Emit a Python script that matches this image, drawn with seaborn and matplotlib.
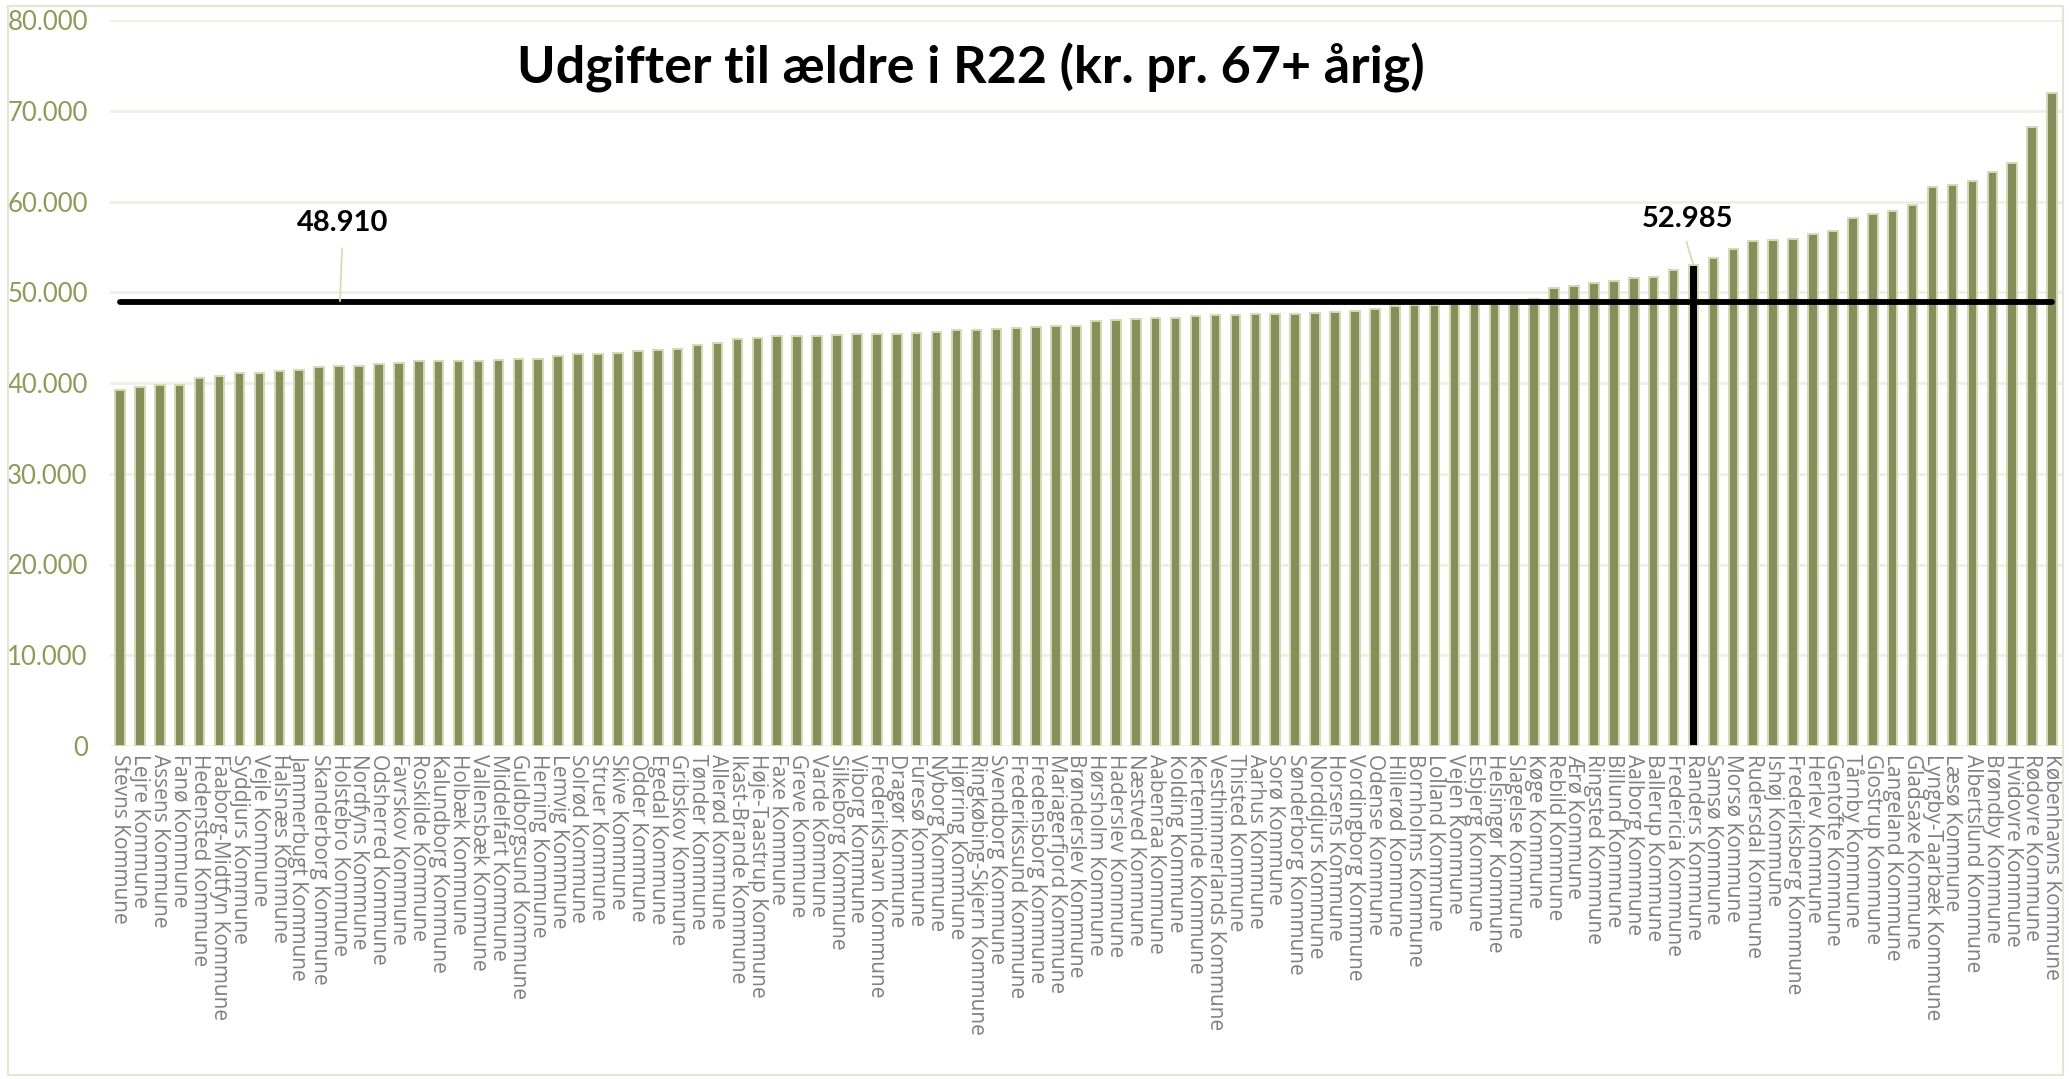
import matplotlib
matplotlib.use("Agg")
import matplotlib.pyplot as plt
import seaborn as sns
import pandas as pd

# Kommuner sorteret efter udgift pr. 67+ årig (R22)
kommuner = [
    "Stevns Kommune", "Lejre Kommune", "Assens Kommune", "Fanø Kommune",
    "Hedensted Kommune", "Faaborg-Midtfyn Kommune", "Syddjurs Kommune", "Vejle Kommune",
    "Halsnæs Kommune", "Jammerbugt Kommune", "Skanderborg Kommune", "Holstebro Kommune",
    "Nordfyns Kommune", "Odsherred Kommune", "Favrskov Kommune", "Roskilde Kommune",
    "Kalundborg Kommune", "Holbæk Kommune", "Vallensbæk Kommune", "Middelfart Kommune",
    "Guldborgsund Kommune", "Herning Kommune", "Lemvig Kommune", "Solrød Kommune",
    "Struer Kommune", "Skive Kommune", "Odder Kommune", "Egedal Kommune",
    "Gribskov Kommune", "Tønder Kommune", "Allerød Kommune", "Ikast-Brande Kommune",
    "Høje-Taastrup Kommune", "Faxe Kommune", "Greve Kommune", "Varde Kommune",
    "Silkeborg Kommune", "Viborg Kommune", "Frederikshavn Kommune", "Dragør Kommune",
    "Furesø Kommune", "Nyborg Kommune", "Hjørring Kommune", "Ringkøbing-Skjern Kommune",
    "Svendborg Kommune", "Frederikssund Kommune", "Fredensborg Kommune", "Mariagerfjord Kommune",
    "Brønderslev Kommune", "Hørsholm Kommune", "Haderslev Kommune", "Næstved Kommune",
    "Aabenraa Kommune", "Kolding Kommune", "Kerteminde Kommune", "Vesthimmerlands Kommune",
    "Thisted Kommune", "Aarhus Kommune", "Sorø Kommune", "Sønderborg Kommune",
    "Norddjurs Kommune", "Horsens Kommune", "Vordingborg Kommune", "Odense Kommune",
    "Hillerød Kommune", "Bornholms Kommune", "Lolland Kommune", "Vejen Kommune",
    "Esbjerg Kommune", "Helsingør Kommune", "Slagelse Kommune", "Køge Kommune",
    "Rebild Kommune", "Ærø Kommune", "Ringsted Kommune", "Billund Kommune",
    "Aalborg Kommune", "Ballerup Kommune", "Fredericia Kommune", "Randers Kommune",
    "Samsø Kommune", "Morsø Kommune", "Rudersdal Kommune", "Ishøj Kommune",
    "Frederiksberg Kommune", "Herlev Kommune", "Gentofte Kommune", "Tårnby Kommune",
    "Glostrup Kommune", "Langeland Kommune", "Gladsaxe Kommune", "Lyngby-Taarbæk Kommune",
    "Læsø Kommune", "Albertslund Kommune", "Brøndby Kommune", "Hvidovre Kommune",
    "Rødovre Kommune", "Københavns Kommune",
]

udgifter = [
    39190, 39520, 39740, 39780, 40590, 40780, 41070, 41150,
    41330, 41480, 41770, 41850, 41880, 42140, 42180, 42370,
    42370, 42380, 42390, 42510, 42660, 42670, 43030, 43180,
    43190, 43290, 43480, 43620, 43700, 44180, 44400, 44840,
    44920, 45140, 45180, 45190, 45290, 45400, 45430, 45440,
    45500, 45670, 45790, 45800, 45900, 46070, 46120, 46240,
    46250, 46850, 46950, 47050, 47150, 47200, 47350, 47450,
    47500, 47550, 47600, 47650, 47700, 47850, 47950, 48150,
    48450, 48550, 48650, 48700, 48800, 48900, 49000, 49300,
    50440, 50700, 51040, 51260, 51560, 51630, 52480, 52985,
    53810, 54810, 55700, 55810, 55890, 56370, 56700, 58220,
    58670, 58930, 59590, 61590, 61780, 62300, 63300, 64200,
    68200, 72000,
]

gennemsnit = 48910
fremhaevet = "Randers Kommune"
y_ticks = [0, 10000, 20000, 30000, 40000, 50000, 60000, 70000, 80000]

df = pd.DataFrame({"kommune": kommuner, "udgift": udgifter})

olive = "#8C9752"
olive_light = "#D5DBB3"
grid_col = "#EEEFE4"
farver = {k: ("black" if k == fremhaevet else olive) for k in kommuner}

fig = plt.figure(figsize=(20.69, 10.79), dpi=100)
ax = fig.add_axes([110 / 2069, 1 - 746 / 1079, (2062 - 110) / 2069, (746 - 20) / 1079])

sns.barplot(data=df, x="kommune", y="udgift", hue="kommune", palette=farver,
            legend=False, width=0.48, edgecolor=olive_light, linewidth=1.4,
            ax=ax, zorder=2)

# gennemsnitslinje
n = len(kommuner)
ax.plot([0, n - 1], [gennemsnit, gennemsnit], color="black", lw=4.2,
        solid_capstyle="round", zorder=4)

# fremhævet kommune
i_r = kommuner.index(fremhaevet)
v_r = udgifter[i_r]

ax.plot([11.15, 11.05], [54800, 49050], color=olive_light, lw=1.3, zorder=5)
ax.text(11.2, 57600, f"{gennemsnit:,}".replace(",", "."), ha="center", va="center",
        fontsize=21, fontweight="bold", family="Lato", color="black", zorder=6)

ax.plot([i_r - 0.35, i_r - 0.02], [55550, v_r + 80], color=olive_light, lw=1.3, zorder=5)
ax.text(i_r - 0.3, 58100, f"{v_r:,}".replace(",", "."), ha="center", va="center",
        fontsize=21, fontweight="bold", family="Lato", color="black", zorder=6)

ax.set_ylim(0, 80000)
ax.set_xlim(-0.5, n - 0.5)
ax.set_yticks(y_ticks)
ax.set_yticklabels([f"{t:,}".replace(",", ".") for t in y_ticks],
                   fontsize=18.5, family="Lato", color="#8E9A5A")
ax.tick_params(axis="y", length=0, pad=16)
ax.tick_params(axis="x", length=0, pad=6)
ax.set_xticks(range(n))
ax.set_xticklabels(kommuner, rotation=270, fontsize=15, family="Open Sans",
                   color="#7F7F7F", va="top", ha="center")
ax.grid(axis="y", color=grid_col, lw=2, zorder=0)
ax.set_axisbelow(True)
ax.set_xlabel("")
ax.set_ylabel("")
for s in ax.spines.values():
    s.set_visible(False)

fig.text(971 / 2069, 1 - 68 / 1079, "Udgifter til ældre i R22 (kr. pr. 67+ årig)",
         ha="center", va="center", fontsize=37.5, fontweight="bold", family="Lato")

# ramme om diagrammet
fig.patches.append(plt.Rectangle((8 / 2069, 4 / 1079), (2063 - 8) / 2069, (1073 - 4) / 1079,
                                 transform=fig.transFigure, fill=False,
                                 edgecolor="#E3E6D3", lw=1.5))

fig.savefig("out.png", dpi=100)
